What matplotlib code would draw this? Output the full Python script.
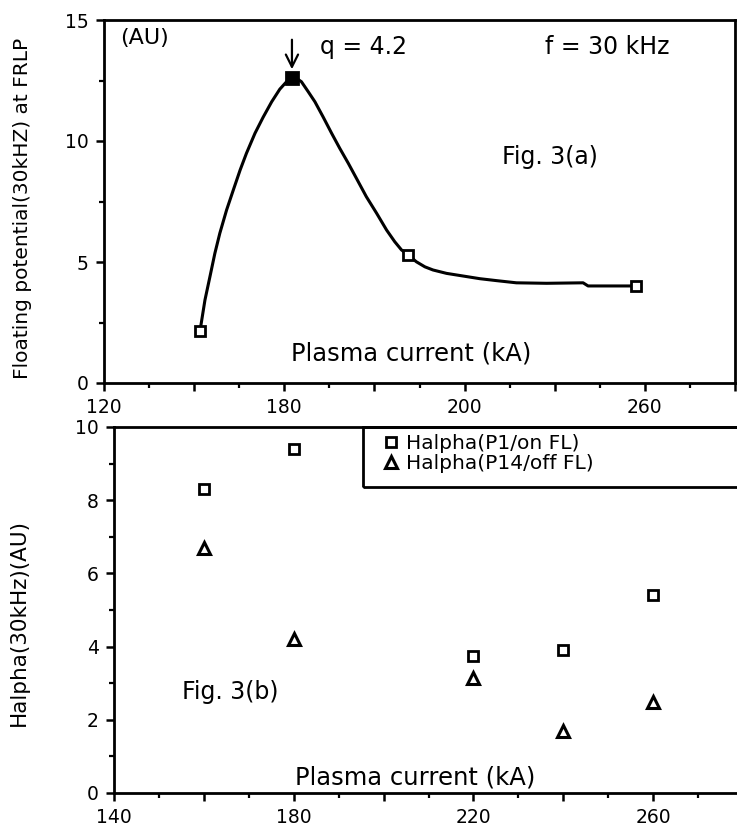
import matplotlib
matplotlib.use("Agg")
import matplotlib.pyplot as plt
from matplotlib.ticker import MultipleLocator, FixedLocator, FixedFormatter
from matplotlib.patches import Rectangle

# ---------------- data ----------------
# Fig 3(a): positions on the (oddly labelled) top axis
top_x = [141.3, 161.7, 187.5, 238.1]
top_y = [2.15, 12.6, 5.29, 4.01]
# smooth curve
curve_x = [141.3, 142.4, 143.5, 144.6, 145.7, 147.2, 148.7, 150.2, 151.6, 153.5,
           155.3, 157.2, 159.0, 160.5, 161.6, 162.7, 163.8, 165.3, 166.8, 168.6,
           170.5, 172.3, 174.2, 176.0, 178.2, 180.5, 182.7, 184.5, 186.0, 187.5,
           189.3, 191.2, 193.0, 196.0, 199.7, 203.4, 207.1, 211.5, 218.2, 226.3,
           227.4, 232.9, 238.1]
curve_y = [2.15, 3.43, 4.39, 5.36, 6.19, 7.15, 7.98, 8.80, 9.49, 10.32,
           10.98, 11.62, 12.14, 12.45, 12.59, 12.59, 12.45, 12.04, 11.62, 11.00,
           10.32, 9.70, 9.08, 8.46, 7.70, 7.01, 6.32, 5.84, 5.50, 5.29,
           5.01, 4.80, 4.67, 4.53, 4.42, 4.31, 4.23, 4.14, 4.12, 4.14,
           4.01, 4.01, 4.01]
top_xtick_pos = [120, 160, 200, 240]
top_xtick_labels = ["120", "180", "200", "260"]
top_ytick_pos = [0, 5, 10, 15]

# Fig 3(b)
currents = [160, 180, 220, 240, 260]
halpha_p1 = [8.3, 9.4, 3.75, 3.9, 5.4]
halpha_p14 = [6.7, 4.2, 3.15, 1.7, 2.5]
bot_xtick_pos = [140, 180, 220, 260]

W, H = 737, 827
fig = plt.figure(figsize=(W / 100, H / 100), dpi=100)
plt.rcParams['font.family'] = ['DejaVu Sans']
narrow = ['Liberation Sans Narrow', 'DejaVu Sans']

def px_axes(l, t, r, b):
    return fig.add_axes([l / W, 1 - b / H, (r - l) / W, (b - t) / H])

def ftext(x, y, s, **kw):
    kw.setdefault('fontsize', 16)
    kw.setdefault('ha', 'center')
    kw.setdefault('va', 'center')
    return fig.text(x / W, 1 - y / H, s, **kw)

def style(ax):
    for s in ax.spines.values():
        s.set_linewidth(2.0)
    ax.tick_params(which='major', direction='out', length=6, width=1.8,
                   labelsize=13.5, pad=5)
    ax.tick_params(which='minor', direction='out', length=3.5, width=1.6)

# ---------------- top panel ----------------
L1, T1, R1, B1 = 104, 20, 735, 383
ax1 = px_axes(L1, T1, R1, B1)
style(ax1)
ax1.set_xlim(120, 260)
ax1.set_ylim(0, 15)
ax1.plot(curve_x, curve_y, color='black', lw=2.2, zorder=2,
         solid_joinstyle='round')
ax1.plot(top_x, top_y, ls='none', marker='s', ms=7.5, mew=2.0,
         mfc='white', mec='black', zorder=3)
peak = top_y.index(max(top_y))
ax1.plot([top_x[peak]], [top_y[peak]], ls='none', marker='s', ms=8,
         mew=2.0, mfc='black', mec='black', zorder=4)
ticks1 = list(range(120, 261, 20))
ax1.xaxis.set_major_locator(FixedLocator(ticks1))
ax1.xaxis.set_major_formatter(FixedFormatter(
    [top_xtick_labels[top_xtick_pos.index(v)] if v in top_xtick_pos else ""
     for v in ticks1]))
ax1.xaxis.set_minor_locator(MultipleLocator(10))
ax1.yaxis.set_major_locator(FixedLocator(top_ytick_pos))
ax1.yaxis.set_minor_locator(MultipleLocator(2.5))
ax1.set_ylabel("Floating potential(30kHZ) at FRLP", family=narrow,
               fontsize=14.5)
ax1.yaxis.set_label_coords((32 - L1) / (R1 - L1), (B1 - 208) / (B1 - T1))
ax1.annotate("", xy=(top_x[peak], 12.85), xytext=(top_x[peak], 14.3),
             arrowprops=dict(arrowstyle='->', lw=1.6, color='black',
                             mutation_scale=22))
ftext(145, 38, "(AU)")
ftext(364, 47, "q = 4.2", fontsize=17)
ftext(607, 47, "f = 30 kHz", fontsize=17)
ftext(550, 157, "Fig. 3(a)", fontsize=17)
ftext(411, 353, "Plasma current (kA)", fontsize=17.5)

# ---------------- bottom panel ----------------
L2, T2, R2, B2 = 114, 427, 743, 793
ax2 = px_axes(L2, T2, R2, B2)
style(ax2)
ax2.set_xlim(140, 280)
ax2.set_ylim(0, 10)
ticks2 = list(range(140, 281, 20))
ax2.xaxis.set_major_locator(FixedLocator(ticks2))
ax2.xaxis.set_major_formatter(FixedFormatter(
    [str(v) if v in bot_xtick_pos else "" for v in ticks2]))
ax2.xaxis.set_minor_locator(MultipleLocator(10))
ax2.yaxis.set_major_locator(MultipleLocator(2))
ax2.yaxis.set_minor_locator(MultipleLocator(1))
ax2.plot(currents, halpha_p1, ls='none', marker='s', ms=7, mew=2.0,
         mfc='white', mec='black', label="Halpha(P1/on FL)")
ax2.plot(currents, halpha_p14, ls='none', marker='^', ms=9, mew=2.2,
         mfc='white', mec='black', label="Halpha(P14/off FL)")
ax2.set_ylabel("Halpha(30kHz)(AU)", family=narrow, fontsize=15.5)
ax2.yaxis.set_label_coords((29 - L2) / (R2 - L2), (B2 - 622) / (B2 - T2))
ftext(230, 692, "Fig. 3(b)", fontsize=17)
ftext(415, 778, "Plasma current (kA)", fontsize=17.5)

# legend box (open to the right edge like the original)
lx0 = (363 - L2) / (R2 - L2)
ly0 = (B2 - 487) / (B2 - T2)
ax2.add_patch(Rectangle((lx0, ly0), 1.0, 1.0 - ly0, transform=ax2.transAxes,
                        fill=False, lw=2.0, ec='black', clip_on=False, zorder=5))
leg = ax2.legend(loc='upper left',
                 bbox_to_anchor=((383 - L2) / (R2 - L2), (B2 - 434) / (B2 - T2)),
                 frameon=False, fontsize=14.5, handletextpad=0.35,
                 handlelength=0.8, borderaxespad=0, borderpad=0,
                 labelspacing=0.05)

fig.savefig("out.png", dpi=100)
